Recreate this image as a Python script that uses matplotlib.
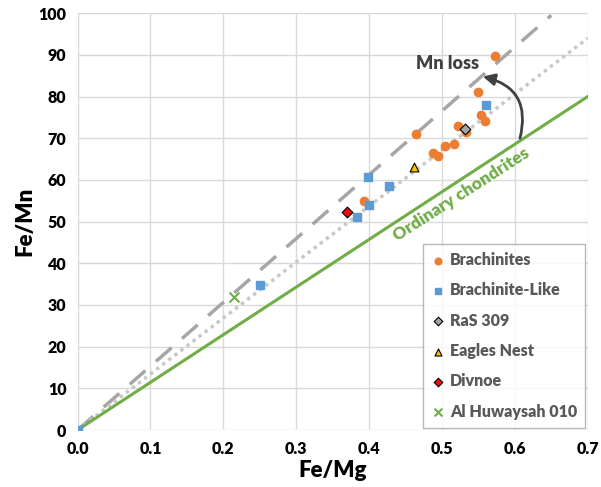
import matplotlib.pyplot as plt
import numpy as np

plt.rcParams['font.family'] = ['Lato', 'DejaVu Sans']

# Daten (Fe/Mg, Fe/Mn)
brach_x = [0.573, 0.550, 0.553, 0.559, 0.522, 0.533, 0.465, 0.516, 0.504, 0.487, 0.495, 0.393]
brach_y = [89.8, 81.0, 75.6, 74.2, 72.9, 71.6, 71.0, 68.7, 68.2, 66.5, 65.8, 54.9]
blike_x = [0.560, 0.398, 0.427, 0.400, 0.383, 0.250, 0.0]
blike_y = [78.0, 60.7, 58.6, 54.0, 51.0, 34.8, 0.0]
ras_x, ras_y = [0.532], [72.3]
eagles_x, eagles_y = [0.462], [63.2]
divnoe_x, divnoe_y = [0.369], [52.4]
alhu_x, alhu_y = [0.215], [31.8]

# Referenzlinien
dash_x, dash_y = [0.0, 0.65], [0.0, 99.5]
dot_x, dot_y = [0.0, 0.70], [0.0, 94.0]
oc_x, oc_y = [0.0, 0.70], [0.0, 80.0]

fig = plt.figure(figsize=(6.01, 4.87), dpi=100)
ax = fig.add_axes([0.129, 0.117, 0.849, 0.856])

ax.plot(dash_x, dash_y, color='#A6A6A6', lw=2.5, dashes=(6, 4), zorder=2)
ax.plot(dot_x, dot_y, color='#C8C8C8', lw=2.5, linestyle=(0, (1, 1.2)), zorder=2)
ax.plot(oc_x, oc_y, color='#70AD47', lw=2.2, zorder=2)

ax.scatter(brach_x, brach_y, marker='o', s=36, color='#ED7D31', label='Brachinites', zorder=4)
ax.scatter(blike_x, blike_y, marker='s', s=36, color='#5B9BD5', label='Brachinite-Like', zorder=4)
ax.scatter(ras_x, ras_y, marker='D', s=30, color='#A5A5A5', edgecolor='black', linewidth=0.8,
           label='RaS 309', zorder=5)
ax.scatter(eagles_x, eagles_y, marker='^', s=40, color='#FFC000', edgecolor='black', linewidth=0.8,
           label='Eagles Nest', zorder=5)
ax.scatter(divnoe_x, divnoe_y, marker='D', s=30, color='#FF0000', edgecolor='black', linewidth=0.8,
           label='Divnoe', zorder=5)
ax.scatter(alhu_x, alhu_y, marker='x', s=50, color='#70AD47', linewidth=1.5,
           label='Al Huwaysah 010', zorder=5)

# Pfeil und Beschriftungen
ax.annotate('', xy=(0.556, 84.8), xytext=(0.607, 70.0),
            arrowprops=dict(arrowstyle='-|>,head_length=0.7,head_width=0.35', color='#404040', lw=2,
                            connectionstyle='arc3,rad=0.5', shrinkA=0, shrinkB=0), zorder=6)
ax.text(0.507, 88, 'Mn loss', fontsize=13, fontweight='heavy', color='#404040',
        ha='center', va='center')
ax.text(0.527, 56.5, 'Ordinary chondrites', fontsize=12.5, fontweight='heavy', color='#70AD47',
        ha='center', va='center', rotation=32.7, rotation_mode='anchor')

ax.set_xlim(0, 0.7)
ax.set_ylim(0, 100)
ax.set_xticks(np.arange(0, 0.71, 0.1))
ax.set_yticks(np.arange(0, 101, 10))
ax.set_xticklabels([f"{v:.1f}" for v in np.arange(0, 0.71, 0.1)])
ax.grid(color='#D9D9D9', lw=1)
ax.set_axisbelow(True)
for s in ax.spines.values():
    s.set_visible(False)
ax.tick_params(length=0, labelsize=11.5, pad=8)
for lab in ax.get_xticklabels() + ax.get_yticklabels():
    lab.set_fontweight('heavy')
ax.set_xlabel('Fe/Mg', fontsize=16, fontweight='heavy', labelpad=2)
ax.set_ylabel('Fe/Mn', fontsize=16, fontweight='heavy', labelpad=2)

leg = ax.legend(loc='lower right', bbox_to_anchor=(1.0, 0.0), fontsize=11.5, frameon=True,
                fancybox=False, edgecolor='#A6A6A6', handletextpad=0.3, labelspacing=0.9,
                borderpad=0.5, borderaxespad=0.15, markerscale=0.8, handlelength=0.9,
                scatterpoints=1)
leg.get_frame().set_linewidth(1)
for t in leg.get_texts():
    t.set_color('#595959')
    t.set_fontweight('heavy')

plt.savefig('out.png', dpi=100)
